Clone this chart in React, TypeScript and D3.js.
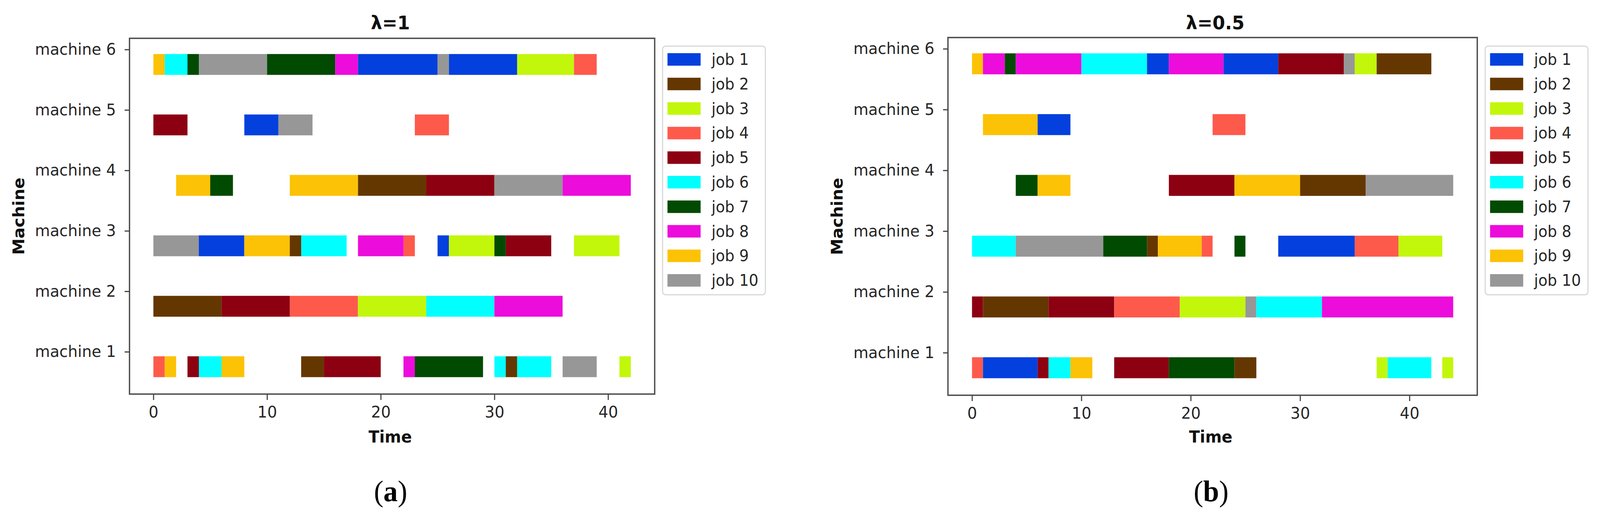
import * as React from 'react'
import * as d3 from 'd3'

const width = 4250
const height = 1325
const font = 'DejaVu Sans, sans-serif'

const jobs = ['job 1', 'job 2', 'job 3', 'job 4', 'job 5', 'job 6', 'job 7', 'job 8', 'job 9', 'job 10']
const jobColors = ['#0340dd', '#653700', '#c2f70b', '#fe5a4c', '#8c0012', '#00ffff', '#014a01', '#ec0cdb', '#fcc205', '#979797']
const machines = [1, 2, 3, 4, 5, 6]
const timeTicks = [0, 10, 20, 30, 40]

// λ=1, one array per machine: [job, start, end]
const a1 = [[4, 0, 1], [9, 1, 2], [5, 3, 4], [6, 4, 6], [9, 6, 8], [2, 13, 15], [5, 15, 20], [8, 22, 23], [7, 23, 29], [6, 30, 31], [2, 31, 32], [6, 32, 35], [10, 36, 39], [3, 41, 42]]
const a2 = [[2, 0, 6], [5, 6, 12], [4, 12, 18], [3, 18, 24], [6, 24, 30], [8, 30, 36]]
const a3 = [[10, 0, 4], [1, 4, 8], [9, 8, 12], [2, 12, 13], [6, 13, 17], [8, 18, 22], [4, 22, 23], [1, 25, 26], [3, 26, 30], [7, 30, 31], [5, 31, 35], [3, 37, 41]]
const a4 = [[9, 2, 5], [7, 5, 7], [9, 12, 18], [2, 18, 24], [5, 24, 30], [10, 30, 36], [8, 36, 42]]
const a5 = [[5, 0, 3], [1, 8, 11], [10, 11, 14], [4, 23, 26]]
const a6 = [[9, 0, 1], [6, 1, 3], [7, 3, 4], [10, 4, 10], [7, 10, 16], [8, 16, 18], [1, 18, 25], [10, 25, 26], [1, 26, 32], [3, 32, 37], [4, 37, 39]]

// λ=0.5
const b1 = [[4, 0, 1], [1, 1, 6], [5, 6, 7], [6, 7, 9], [9, 9, 11], [5, 13, 18], [7, 18, 24], [2, 24, 26], [3, 37, 38], [6, 38, 42], [3, 43, 44]]
const b2 = [[5, 0, 1], [2, 1, 7], [5, 7, 13], [4, 13, 19], [3, 19, 25], [10, 25, 26], [6, 26, 32], [8, 32, 44]]
const b3 = [[6, 0, 4], [10, 4, 12], [7, 12, 16], [2, 16, 17], [9, 17, 21], [4, 21, 22], [7, 24, 25], [1, 28, 35], [4, 35, 39], [3, 39, 43]]
const b4 = [[7, 4, 6], [9, 6, 9], [5, 18, 24], [9, 24, 30], [2, 30, 36], [10, 36, 44]]
const b5 = [[9, 1, 6], [1, 6, 9], [4, 22, 25]]
const b6 = [[9, 0, 1], [8, 1, 3], [7, 3, 4], [8, 4, 10], [6, 10, 16], [1, 16, 18], [8, 18, 23], [1, 23, 28], [5, 28, 34], [10, 34, 35], [3, 35, 37], [2, 37, 42]]

const Gantt = ({ rows, title, caption, x0, x1, y0, y1, xMax, labelX, titleX }: any) => {
  const xScale = d3.scaleLinear().domain([-xMax * 0.05, xMax * 1.05]).range([x0, x1])
  const yScale = d3.scaleLinear().domain([0.3, 6.185]).range([y1, y0])

  const xRef = React.useRef(null)
  const yRef = React.useRef(null)

  React.useEffect(() => {
    const style = (g: any) => {
      g.select('.domain').remove()
      g.selectAll('text').attr('font-size', 41).attr('font-family', font).attr('fill', '#262626')
      g.selectAll('line').attr('stroke', '#444').attr('stroke-width', 3)
    }
    d3.select(xRef.current)
      .call(d3.axisBottom(xScale).tickValues(timeTicks).tickSize(15).tickPadding(16) as any)
      .call(style)
    d3.select(yRef.current)
      .call(d3.axisLeft(yScale).tickValues(machines).tickFormat(d => `machine ${d}`).tickSize(13).tickPadding(23) as any)
      .call(style)
  }, [])

  const legendX = x1 + 21
  const legendY = 118
  const cx = (x0 + x1) / 2

  return (
    <g>
      {rows.map((row: number[][], m: number) =>
        row.map(([job, start, end], i) => (
          <rect
            key={`${m}-${i}`}
            x={xScale(start)}
            width={xScale(end) - xScale(start)}
            y={yScale(m + 1 - 0.075)}
            height={yScale(m + 1 - 0.42) - yScale(m + 1 - 0.075)}
            fill={jobColors[job - 1]}
          />
        ))
      )}
      <rect x={x0} y={y0} width={x1 - x0} height={y1 - y0} fill="none" stroke="#4a4a4a" strokeWidth={3.5} />
      <g ref={xRef} transform={`translate(0, ${y1})`} />
      <g ref={yRef} transform={`translate(${x0}, 0)`} />
      <text x={titleX} y={75} textAnchor="middle" fontFamily={font} fontWeight="bold" fontSize={48} fill="#111">
        {title}
      </text>
      <text x={cx - 5} y={1117} dy="0.35em" textAnchor="middle" fontFamily={font} fontWeight="bold" fontSize={42} fill="#111">
        Time
      </text>
      <text
        transform={`translate(${labelX}, ${(y0 + y1) / 2}) rotate(-90)`}
        dy="0.35em"
        textAnchor="middle"
        fontFamily={font}
        fontWeight="bold"
        fontSize={42}
        fill="#111"
      >
        Machine
      </text>
      <rect x={legendX} y={legendY} width={273} height={636} rx={8} fill="#fff" stroke="#d8d8d8" strokeWidth={3} />
      {jobs.map((job, i) => (
        <g key={job} transform={`translate(${legendX}, ${legendY + 18 + i * 62.8})`}>
          <rect x={13} y={0} width={88} height={32} fill={jobColors[i]} />
          <text x={130} y={16} dy="0.35em" fontFamily={font} fontSize={40} fill="#262626">
            {job}
          </text>
        </g>
      ))}
      <text x={cx - 4} y={1282} textAnchor="middle" fontFamily="Liberation Serif, serif" fontSize={76} fill="#000">
        (<tspan fontWeight="bold">{caption}</tspan>)
      </text>
    </g>
  )
}

const App = () => {
  // fit the drawing to the visible page, whatever its size
  const vw = document.documentElement.clientWidth || width
  const vh = document.documentElement.clientHeight || height

  return (
    <svg
      width={vw}
      height={vh}
      viewBox={`0 0 ${width} ${height}`}
      preserveAspectRatio="none"
      style={{ position: 'absolute', left: 0, top: 0, background: '#fff' }}
    >
      <rect width={width} height={height} fill="#fff" />
      <Gantt
        rows={[a1, a2, a3, a4, a5, a6]}
        title="λ=1"
        caption="a"
        x0={344}
        x1={1739}
        y0={98}
        y1={1008}
        xMax={42}
        labelX={50}
        titleX={1037}
      />
      <Gantt
        rows={[b1, b2, b3, b4, b5, b6]}
        title="λ=0.5"
        caption="b"
        x0={2518}
        x1={3924}
        y0={96}
        y1={1011}
        xMax={44}
        labelX={2223}
        titleX={3228}
      />
    </svg>
  )
}

export default App
